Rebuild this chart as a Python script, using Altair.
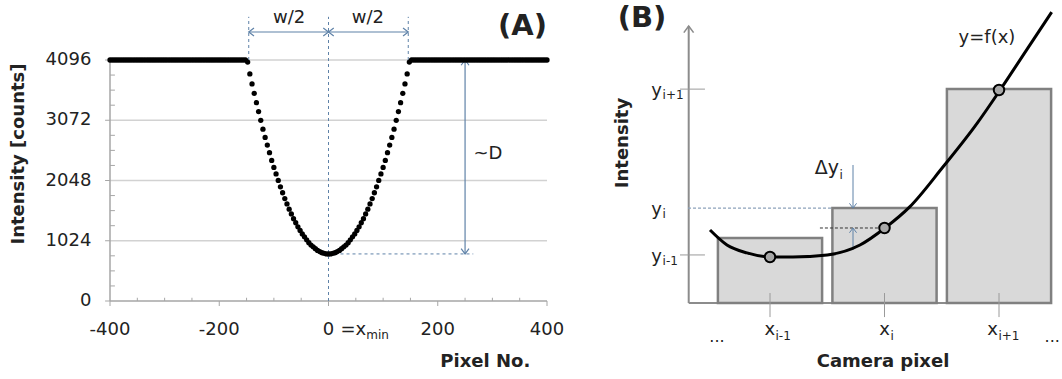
import altair as alt
import pandas as pd

FONT = "DejaVu Sans"
TXT = "#222222"
GUIDE = "#5f82a8"
AXIS_GREY = "#a6a6a6"
GRID_GREY = "#d2d2d2"

# ---------------- (A) intensity profile across the dip ----------------
pixel_no = list(range(-400, 401, 4))
flat_left = [4096] * 63  # saturated, -400 ... -152
dip_left = [4060, 3860, 3690, 3530, 3370, 3220, 3070, 2920, 2780, 2650, 2520, 2390,
            2270, 2160, 2050, 1940, 1840, 1740, 1650, 1560, 1480, 1400, 1330, 1260,
            1200, 1140, 1090, 1040, 990, 950, 920, 890, 860, 840, 820, 810, 800]  # -148 ... -4
dip_centre = [800]
dip_right = [800, 810, 820, 840, 860, 890, 920, 950, 990, 1040, 1090, 1140, 1200, 1260,
             1330, 1400, 1480, 1560, 1650, 1740, 1840, 1940, 2050, 2160, 2270, 2390,
             2520, 2650, 2780, 2920, 3070, 3220, 3370, 3530, 3690, 3860, 4060]  # 4 ... 148
flat_right = [4096] * 63
intensity = flat_left + dip_left + dip_centre + dip_right + flat_right

x_ticks_a = [-400, -200, 0, 200, 400]
x_tick_labels_a = ["-400", "-200", "0", "200", "400"]
y_ticks_a = [0, 1024, 2048, 3072, 4096]
y_tick_labels_a = ["0", "1024", "2048", "3072", "4096"]
y_minor_a = [256, 512, 768, 1280, 1536, 1792, 2304, 2560, 2816, 3328, 3584, 3840]
x_minor_a = [-350, -300, -250, -150, -100, -50, 50, 100, 150, 250, 300, 350]

half_width = 146      # w/2 in pixels
dip_min = 800         # minimum intensity
d_arrow_x = 250       # where the ~D arrow is drawn

# ---------------- (B) camera pixel sketch ----------------
pix_centre = [1, 2, 3]
pix_value = [2.22, 3.24, 7.30]
pix_half = 0.455
pix_sub = ["i-1", "i", "i+1"]
sample_y = [1.57, 2.56, 7.27]
curve_x = [0.476, 0.624, 0.799, 1.009, 1.20, 1.50, 1.786, 2.004, 2.22, 2.51, 2.81, 3.01, 3.24, 3.46]
curve_y = [2.49, 1.98, 1.71, 1.57, 1.57, 1.64, 1.98, 2.56, 3.28, 4.64, 6.14, 7.27, 8.63, 9.93]
y_levels_b = [7.30, 3.24, 1.64]
y_level_sub = ["i+1", "i", "i-1"]
axis_b_x = 0.29

W, H = 1062, 379
XA = alt.Scale(domain=[-400, 400], range=[110, 547], nice=False, zero=False)
YA = alt.Scale(domain=[0, 4096], range=[301, 60], nice=False, zero=False)
XB = alt.Scale(domain=[0, 3.5], range=[655.5, 1056.25], nice=False, zero=False)
YB = alt.Scale(domain=[0, 10], range=[303, 10], nice=False, zero=False)


def rules(df, XS, YS, color, width=1.0, dash=None):
    kw = dict(color=color, strokeWidth=width)
    if dash:
        kw["strokeDash"] = dash
    return alt.Chart(df).mark_rule(**kw).encode(
        x=alt.X("x:Q", scale=XS, axis=None), x2="x2:Q",
        y=alt.Y("y:Q", scale=YS, axis=None), y2="y2:Q")


def heads(df, XS, YS, color, size=110, width=1.2):
    return alt.Chart(df).mark_point(
        shape="M-1,-0.75L0,0L-1,0.75", filled=False, color=color,
        strokeWidth=width, size=size, opacity=1).encode(
        x=alt.X("x:Q", scale=XS, axis=None), y=alt.Y("y:Q", scale=YS, axis=None),
        angle=alt.Angle("a:Q", scale=None))


def label(df, XS, YS, size, align="center", weight="normal", angle=0, color=TXT):
    return alt.Chart(df).mark_text(
        font=FONT, fontSize=size, align=align, baseline="middle",
        fontWeight=weight, angle=angle, color=color).encode(
        x=alt.X("x:Q", scale=XS, axis=None), y=alt.Y("y:Q", scale=YS, axis=None),
        text="t:N")


# ----- panel A: frame, grid and ticks -----
grid_a = rules(pd.DataFrame({"x": -400, "x2": 400, "y": y_ticks_a[1:], "y2": y_ticks_a[1:]}),
               XA, YA, GRID_GREY, 1.3)
frame_a = rules(pd.DataFrame({"x": [-400, -400], "x2": [-400, 400],
                              "y": [0, 0], "y2": [4096, 0]}), XA, YA, AXIS_GREY, 1.5)
major_y = rules(pd.DataFrame({"x": -409, "x2": -400, "y": y_ticks_a, "y2": y_ticks_a}),
                XA, YA, AXIS_GREY, 1)
major_x = rules(pd.DataFrame({"x": x_ticks_a, "x2": x_ticks_a, "y": 0, "y2": -85}),
                XA, YA, AXIS_GREY, 1)
minor_y = rules(pd.DataFrame({"x": -400, "x2": -391, "y": y_minor_a, "y2": y_minor_a}),
                XA, YA, AXIS_GREY, 1)
minor_x = rules(pd.DataFrame({"x": x_minor_a, "x2": x_minor_a, "y": 0, "y2": 55}),
                XA, YA, AXIS_GREY, 1)
ylabels_a = label(pd.DataFrame({"x": -434, "y": y_ticks_a, "t": y_tick_labels_a}),
                  XA, YA, 18, align="right")
xlabels_a = label(pd.DataFrame({"x": x_ticks_a, "y": -493, "t": x_tick_labels_a}),
                  XA, YA, 18)
ytitle_a = label(pd.DataFrame({"x": [-566], "y": [2498], "t": ["Intensity [counts]"]}),
                 XA, YA, 18, weight="bold", angle=270)
xtitle_a = label(pd.DataFrame({"x": [287], "y": [-1037], "t": ["Pixel No."]}),
                 XA, YA, 18, weight="bold")
xmin_a = label(pd.DataFrame({"x": [22], "y": [-493], "t": ["=x"]}), XA, YA, 18, align="left")
xmin_sub = label(pd.DataFrame({"x": [69], "y": [-578], "t": ["min"]}), XA, YA, 12, align="left")

# ----- panel A: data and annotations -----
profile = pd.DataFrame({"x": pixel_no, "y": intensity})
dots = alt.Chart(profile).mark_circle(size=28, color="black", opacity=1).encode(
    x=alt.X("x:Q", scale=XA, axis=None), y=alt.Y("y:Q", scale=YA, axis=None))

guides_a = rules(pd.DataFrame({
    "x": [-half_width, half_width, 0, 0],
    "x2": [-half_width, half_width, 0, 265],
    "y": [4096, 4096, 0, dip_min],
    "y2": [4830, 4830, 4830, dip_min]}), XA, YA, GUIDE, 1, [3, 3])
arrows_a = rules(pd.DataFrame({
    "x": [-half_width, 0, d_arrow_x],
    "x2": [0, half_width, d_arrow_x],
    "y": [4572, 4572, dip_min],
    "y2": [4572, 4572, 4096]}), XA, YA, GUIDE, 1.2)
heads_a = heads(pd.DataFrame({
    "x": [-half_width, 0, 0, half_width, d_arrow_x, d_arrow_x],
    "y": [4572, 4572, 4572, 4572, 4096, dip_min],
    "a": [180, 0, 180, 0, 270, 90]}), XA, YA, GUIDE)

text_a = label(pd.DataFrame({"x": [-72, 72, 292], "y": [4810, 4810, 2498],
                             "t": ["w/2", "w/2", "~D"]}), XA, YA, 18)
tag_a = label(pd.DataFrame({"x": [400], "y": [4680], "t": ["(A)"]}), XA, YA, 29,
              align="right", weight="bold")

panel_a = alt.layer(grid_a, minor_y, minor_x, major_y, major_x, frame_a, guides_a,
                    arrows_a, heads_a, dots, ylabels_a, xlabels_a, ytitle_a, xtitle_a,
                    xmin_a, xmin_sub, text_a, tag_a)

# ----- panel B layers -----
axes_b = rules(pd.DataFrame({"x": [axis_b_x, axis_b_x], "x2": [axis_b_x, 3.454],
                             "y": [0, 0], "y2": [9.45, 0]}), XB, YB, "#8c8c8c", 2)
axis_head = heads(pd.DataFrame({"x": [axis_b_x], "y": [9.45], "a": [270]}), XB, YB,
                  "#8c8c8c", size=170, width=1.6)

bars_df = pd.DataFrame({"x": [c - pix_half for c in pix_centre],
                        "x2": [c + pix_half for c in pix_centre],
                        "y": 0, "y2": pix_value})
bars = alt.Chart(bars_df).mark_rect(fill="#d9d9d9", stroke="#808080", strokeWidth=2.5).encode(
    x=alt.X("x:Q", scale=XB, axis=None), x2="x2:Q",
    y=alt.Y("y:Q", scale=YB, axis=None), y2="y2:Q")

centre_ticks = rules(pd.DataFrame({"x": pix_centre, "x2": pix_centre, "y": 0.34, "y2": -0.48}),
                     XB, YB, "#9a9a9a", 1)
level_ticks = rules(pd.DataFrame({"x": [0.214, 0.214], "x2": [0.432, 0.432],
                                  "y": [y_levels_b[0], y_levels_b[2]],
                                  "y2": [y_levels_b[0], y_levels_b[2]]}), XB, YB, "#9a9a9a", 1)
yi_dash = rules(pd.DataFrame({"x": [0.284], "x2": [1.54], "y": [y_levels_b[1]],
                              "y2": [y_levels_b[1]]}), XB, YB, "#8da2bb", 1.2, [3, 2])
fi_dash = rules(pd.DataFrame({"x": [1.436], "x2": [2.0], "y": [sample_y[1]],
                              "y2": [sample_y[1]]}), XB, YB, "#333333", 1, [3, 2])
dy_lines = rules(pd.DataFrame({"x": [1.725, 1.725], "x2": [1.725, 1.725],
                               "y": [4.71, 1.81], "y2": [y_levels_b[1], sample_y[1]]}),
                 XB, YB, GUIDE, 1)
dy_heads = heads(pd.DataFrame({"x": [1.725, 1.725], "y": [y_levels_b[1], sample_y[1]],
                               "a": [90, 270]}), XB, YB, GUIDE, size=90, width=1)

curve = alt.Chart(pd.DataFrame({"x": curve_x, "y": curve_y})).mark_line(
    color="black", strokeWidth=3, interpolate="monotone").encode(
    x=alt.X("x:Q", scale=XB, axis=None), y=alt.Y("y:Q", scale=YB, axis=None))
samples = alt.Chart(pd.DataFrame({"x": pix_centre, "y": sample_y})).mark_point(
    shape="circle", filled=True, fill="#a8a8a8", stroke="black", strokeWidth=2,
    size=110, opacity=1).encode(
    x=alt.X("x:Q", scale=XB, axis=None), y=alt.Y("y:Q", scale=YB, axis=None))

tag_b = label(pd.DataFrame({"x": [-0.118], "y": [9.73], "t": ["(B)"]}), XB, YB, 29, weight="bold")
fx_b = label(pd.DataFrame({"x": [2.895], "y": [9.04], "t": ["y=f(x)"]}), XB, YB, 18)
ytitle_b = label(pd.DataFrame({"x": [-0.284], "y": [5.46], "t": ["Intensity"]}), XB, YB, 18,
                 weight="bold", angle=270)
xtitle_b = label(pd.DataFrame({"x": [1.987], "y": [-2.01], "t": ["Camera pixel"]}), XB, YB, 18,
                 weight="bold")
dots_b = label(pd.DataFrame({"x": [0.537, 3.465], "y": [-1.16, -1.16], "t": ["...", "..."]}),
               XB, YB, 16)
xlab = label(pd.DataFrame({"x": [1.044, 2.048, 2.991], "y": -0.93, "t": ["x", "x", "x"]}),
             XB, YB, 18, align="right")
xsub = label(pd.DataFrame({"x": [1.048, 2.052, 2.995], "y": -1.14, "t": pix_sub}),
             XB, YB, 12, align="left")
ylab = label(pd.DataFrame({"x": 0.057, "y": [v - 0.06 for v in y_levels_b], "t": ["y", "y", "y"]}),
             XB, YB, 18, align="right")
ysub = label(pd.DataFrame({"x": 0.062, "y": [v - 0.2 for v in y_levels_b], "t": y_level_sub}),
             XB, YB, 12, align="left")
dlab = label(pd.DataFrame({"x": [1.603], "y": [4.61], "t": ["Δy"]}), XB, YB, 19, align="right")
dsub = label(pd.DataFrame({"x": [1.607], "y": [4.38], "t": ["i"]}), XB, YB, 12, align="left")

panel_b = alt.layer(axes_b, axis_head, bars, centre_ticks, level_ticks, yi_dash, fi_dash,
                    dy_lines, dy_heads, curve, samples, tag_b, fx_b, ytitle_b, xtitle_b,
                    dots_b, xlab, xsub, ylab, ysub, dlab, dsub)

chart = alt.layer(panel_a, panel_b).resolve_scale(
    x="independent", y="independent").properties(
    width=W, height=H, autosize=alt.AutoSizeParams(type="none"), padding=0,
    background="white").configure_view(strokeWidth=0)

chart.save("out.html", embed_options={"renderer": "svg", "actions": False})
